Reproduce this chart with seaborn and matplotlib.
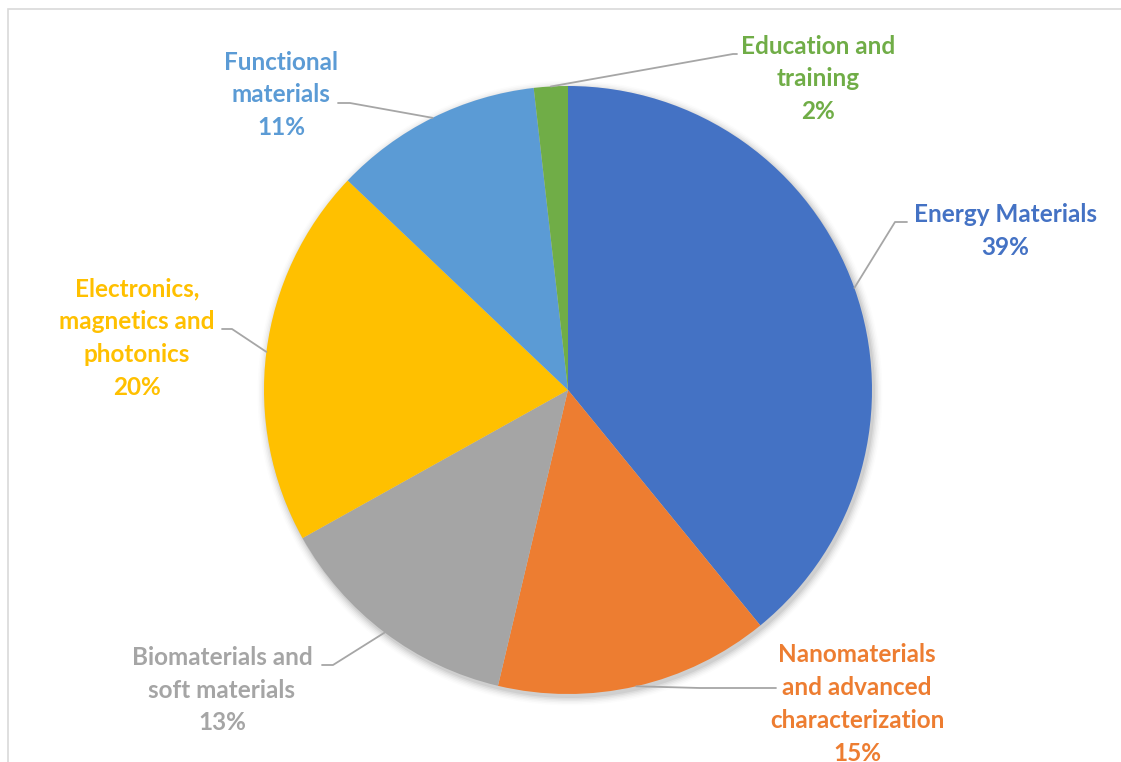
import numpy as np
import matplotlib
matplotlib.use("Agg")
import matplotlib.pyplot as plt
import seaborn as sns
from matplotlib.patches import Rectangle, Circle

# data (share of projects per field)
categories = ["Energy Materials", "Nanomaterials and advanced characterization",
              "Biomaterials and soft materials", "Electronics, magnetics and photonics",
              "Functional materials", "Education and training"]
shares = [39.1, 14.6, 13.2, 20.2, 11.1, 1.8]
label_lines = ["Energy Materials",
               "Nanomaterials\nand advanced\ncharacterization",
               "Biomaterials and\nsoft materials",
               "Electronics,\nmagnetics and\nphotonics",
               "Functional\nmaterials",
               "Education and\ntraining"]
colors = ["#4472C4", "#ED7D31", "#A5A5A5", "#FFC000", "#5B9BD5", "#70AD47"]

sns.set_theme(style="white")
plt.rcParams["font.family"] = ["Lato", "DejaVu Sans"]

W, H = 1121, 762
fig = plt.figure(figsize=(W / 100, H / 100), dpi=100)
ax = fig.add_axes([0, 0, 1, 1])
ax.set_xlim(0, W)
ax.set_ylim(0, H)
ax.set_aspect("equal")
ax.axis("off")

cx, cy, r = 568, H - 390, 304

# soft shadow under the pie
for i, a in enumerate(np.linspace(0.05, 0.01, 6)):
    ax.add_patch(Circle((cx + 2, cy - 3), r + 1 + i * 1.5, color="black", alpha=a, lw=0, zorder=0))

wedges, _ = ax.pie(shares, colors=colors, startangle=90, counterclock=False,
                   radius=r, center=(cx, cy), frame=True,
                   wedgeprops=dict(linewidth=0))
ax.set_xlim(0, W)
ax.set_ylim(0, H)
ax.axis("off")

# label block centre (px), elbow + end of leader line (px)
label_pos = [(1005, 231), (857, 704), (222, 690), (137, 338), (281, 95), (818, 79)]
leaders = [[(907, 222), (895, 222)],
           [(776, 688), (700, 688)],
           [(322, 665), (333, 665)],
           [(222, 329), (232, 329)],
           [(338, 103), (350, 103)],
           [(737, 54), (733, 54)]]

for w, txt, share, col, (lx, ly), pts in zip(wedges, label_lines, shares, colors, label_pos, leaders):
    mid = np.deg2rad((w.theta1 + w.theta2) / 2)
    ex, ey = cx + r * np.cos(mid), cy + r * np.sin(mid)
    xs = [p[0] for p in pts] + [ex]
    ys = [H - p[1] for p in pts] + [ey]
    ax.plot(xs, ys, color="#A6A6A6", lw=1.3, zorder=3)
    ax.text(lx, H - ly, f"{txt}\n{round(share)}%", color=col, fontsize=17.5,
            fontweight="bold", ha="center", va="center", linespacing=1.52, zorder=4)

# chart area border (cropped at right / bottom)
fig.patches.append(Rectangle((8 / W, -0.1), 1.2, (H - 9) / H + 0.1, transform=fig.transFigure,
                             fill=False, edgecolor="#D9D9D9", lw=1.2))

fig.savefig("out.png", dpi=100)
